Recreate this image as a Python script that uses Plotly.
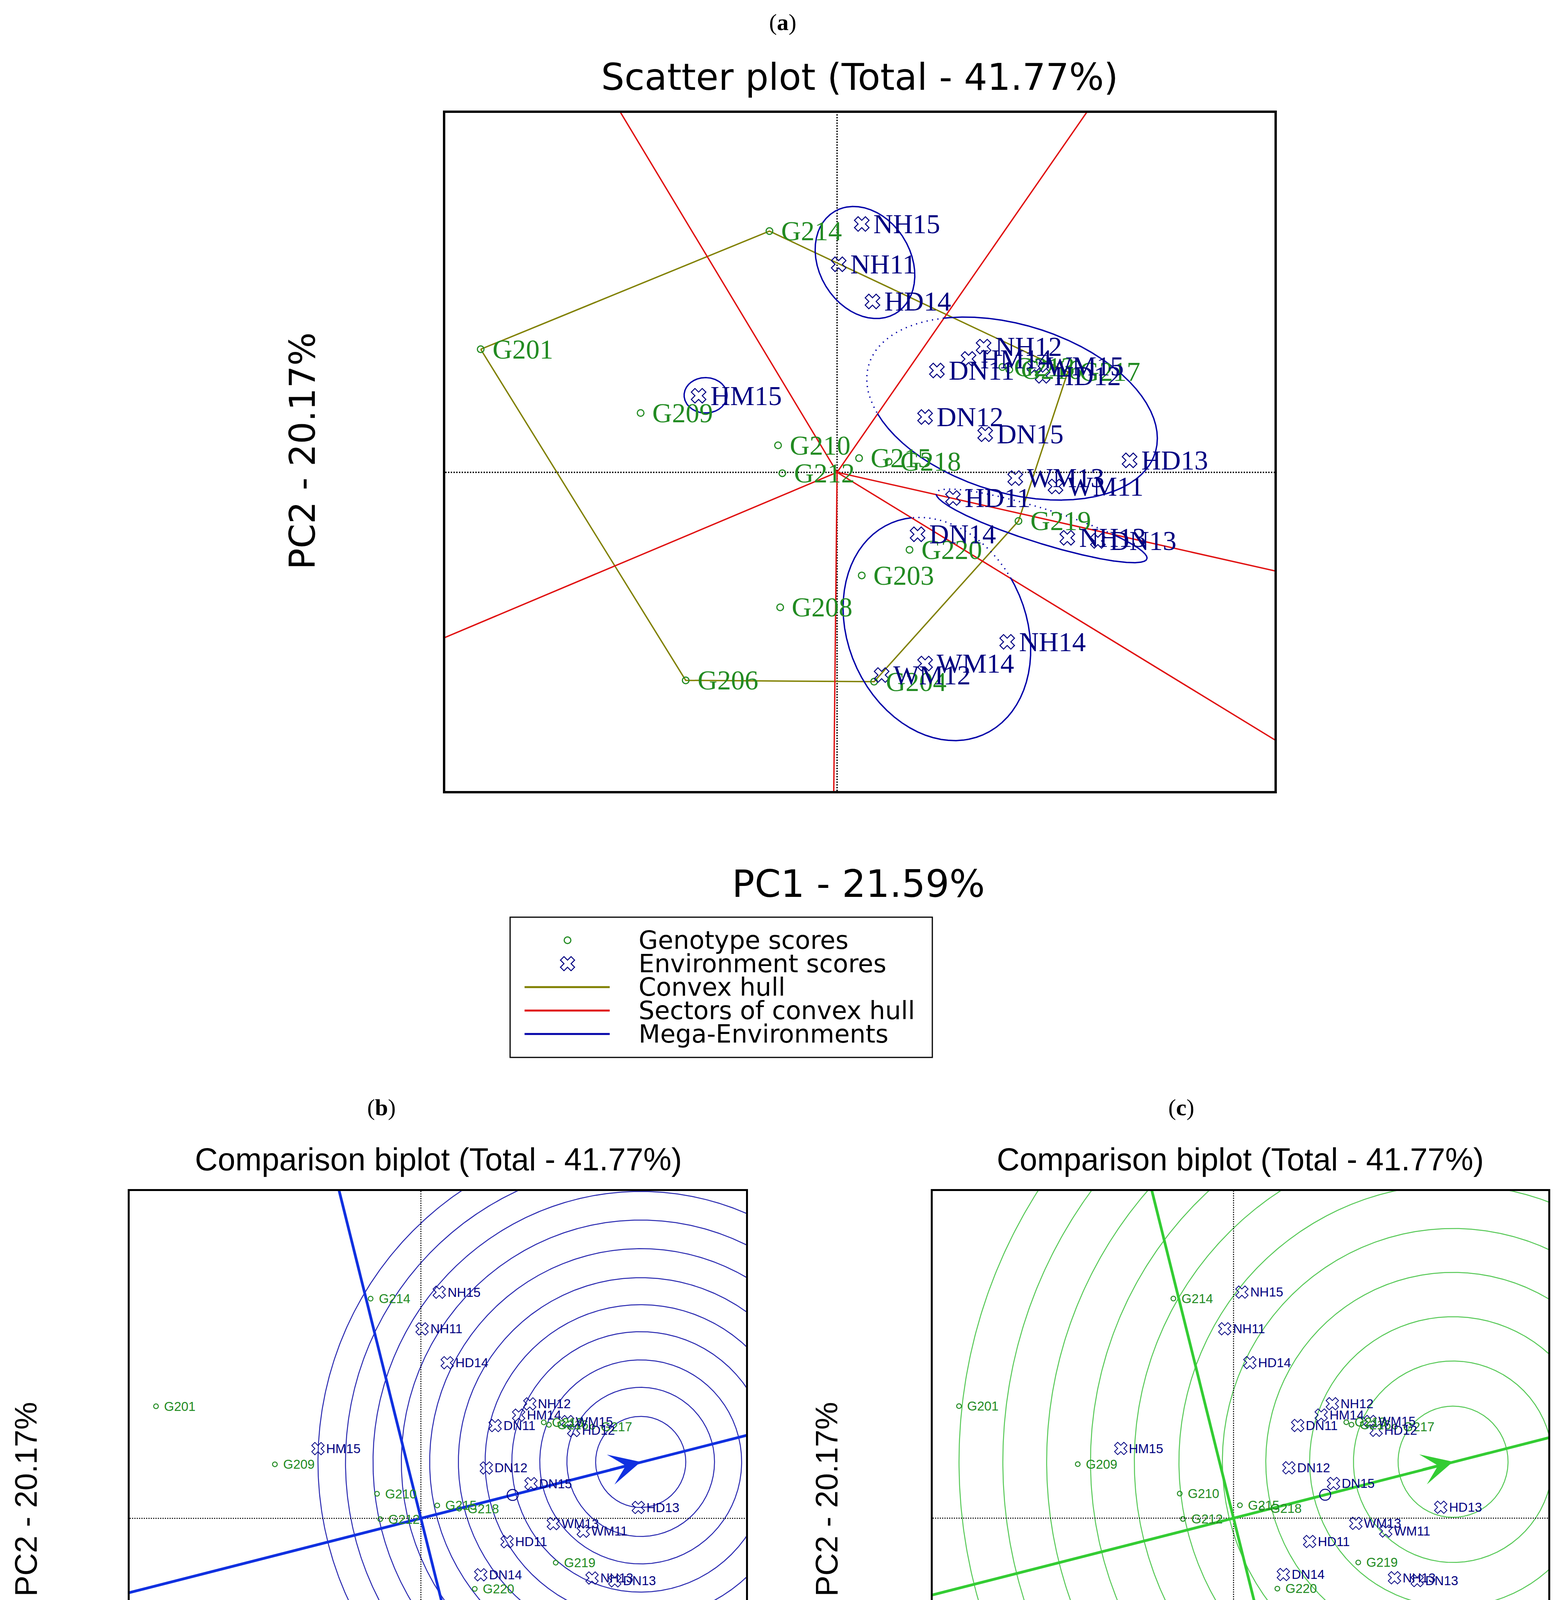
import numpy as np
import plotly.graph_objects as go

W, H = 3994, 5144

# ---------------- data: PC1 / PC2 scores ----------------
geno_names = ["G201", "G203", "G204", "G206", "G208", "G209", "G210", "G212", "G213",
              "G214", "G215", "G216", "G217", "G218", "G219", "G220"]
geno_pc1 = [-6.64, 0.46, 0.69, -2.82, -1.06, -3.66, -1.10, -1.02, 3.08,
            -1.26, 0.41, 3.21, 4.30, 0.96, 3.38, 1.35]
geno_pc2 = [2.78, -2.33, -4.73, -4.70, -3.05, 1.34, 0.61, -0.02, 2.38,
            5.45, 0.32, 2.32, 2.27, 0.24, -1.10, -1.75]

env_names = ["NH11", "NH12", "NH13", "NH14", "NH15", "HD11", "HD12", "HD13", "HD14",
             "DN11", "DN12", "DN13", "DN14", "DN15", "WM11", "WM12", "WM13", "WM14",
             "WM15", "HM14", "HM15"]
env_pc1 = [0.03, 2.73, 4.29, 3.17, 0.46, 2.16, 3.83, 5.45, 0.66,
           1.86, 1.64, 4.86, 1.50, 2.76, 4.07, 0.83, 3.32, 1.64,
           3.68, 2.45, -2.58]
env_pc2 = [4.70, 2.84, -1.48, -3.83, 5.61, -0.58, 2.18, 0.27, 3.86,
           2.30, 1.25, -1.55, -1.40, 0.86, -0.32, -4.58, -0.13, -4.32,
           2.40, 2.56, 1.73]

# vertices of the convex hull (genotypes), in drawing order
hull_genotypes = ["G201", "G214", "G217", "G219", "G204", "G206"]

# mega-environment ellipses: centre, semi-axes, rotation (degrees)
me_cx = [0.52, -2.45, 3.26, 3.81, 1.86]
me_cy = [4.74, 1.74, 1.44, -1.21, -3.54]
me_a = [1.30, 0.40, 2.86, 2.10, 2.56]
me_b = [0.88, 0.40, 1.85, 0.38, 1.69]
me_angle = [108, 0, -25, -21, -76.6]

# average environment coordinate and ideal point of the comparison biplots
aec_point = [2.30, 0.58]
ideal_point = [5.51, 1.40]
rings_b = [1.13, 1.85, 2.53, 3.23, 3.90, 4.57, 5.29, 6.00, 6.71, 7.40, 8.09]
rings_c = [1.38, 2.50, 3.60, 4.70, 5.79, 6.88, 8.00, 9.10, 10.2, 11.3, 12.4]
# panel (c) draws its origin / AEC frame slightly right of panel (b)'s
frame_shift = {"b": 0.0, "c": 0.25}

pc1_range = [-7.30, 8.15]
pc2_range = [-7.20, 8.12]

title_a = "Scatter plot (Total - 41.77%)"
title_bc = "Comparison biplot (Total - 41.77%)"
xlab = "PC1 - 21.59%"
ylab = "PC2 - 20.17%"

# ---------------- styles ----------------
GREEN = "#228B22"
NAVY = "#000080"
OLIVE = "#808000"
RED = "#E01010"
MEBLUE = "#0000A8"
B_LINE = "#1030E0"
B_RING = "#2828B0"
C_LINE = "#33CC33"
C_RING = "#55C855"

fig = go.Figure()
AX = {"a": ("x", "y"), "b": ("x2", "y2"), "c": ("x3", "y3"), "p": ("x4", "y4")}


def add_line(xs, ys, ax, color, width, dash="solid"):
    fig.add_trace(go.Scatter(x=xs, y=ys, mode="lines",
                             line=dict(color=color, width=width, dash=dash),
                             xaxis=AX[ax][0], yaxis=AX[ax][1],
                             hoverinfo="skip", showlegend=False))


def add_markers(xs, ys, ax, symbol, size, color, lw):
    fig.add_trace(go.Scatter(x=xs, y=ys, mode="markers",
                             marker=dict(symbol=symbol, size=size, color=color,
                                         line=dict(color=color, width=lw)),
                             xaxis=AX[ax][0], yaxis=AX[ax][1],
                             hoverinfo="skip", showlegend=False))


annotations = []


def add_labels(names, xs, ys, ax, color, family, size, shift):
    for n, x, y in zip(names, xs, ys):
        annotations.append(dict(x=x, y=y, xref=AX[ax][0], yref=AX[ax][1], text=n,
                                showarrow=False, xanchor="left", yanchor="middle",
                                xshift=shift, font=dict(family=family, size=size, color=color)))


def page_text(x, y, text, size, family="Liberation Sans", angle=0, anchor="center", color="black"):
    annotations.append(dict(x=x, y=y, xref="x4", yref="y4", text=text, showarrow=False,
                            xanchor=anchor, yanchor="middle", textangle=angle,
                            font=dict(family=family, size=size, color=color)))


gidx = {n: i for i, n in enumerate(geno_names)}
hx = [geno_pc1[gidx[n]] for n in hull_genotypes]
hy = [geno_pc2[gidx[n]] for n in hull_genotypes]

# sector rays: perpendiculars from the origin to each hull edge
rays = []
for k in range(len(hx)):
    p = np.array([hx[k], hy[k]])
    q = np.array([hx[(k + 1) % len(hx)], hy[(k + 1) % len(hx)]])
    d = q - p
    t = -p.dot(d) / d.dot(d)
    foot = p + t * d
    rays.append(foot / np.linalg.norm(foot))
ray_ang = sorted(float(np.degrees(np.arctan2(u[1], u[0])) % 360) for u in rays)


def sector_of(a):
    a = a % 360
    n = len(ray_ang)
    for i in range(n):
        lo, hi = ray_ang[i], ray_ang[(i + 1) % n]
        if lo <= hi:
            if lo <= a < hi:
                return i
        else:
            if a >= lo or a < hi:
                return i
    return 0


# ================= panel (a) =================
add_line(pc1_range, [0, 0], "a", "black", 3.5, "dot")
add_line([0, 0], pc2_range, "a", "black", 3.5, "dot")
add_line(hx + [hx[0]], hy + [hy[0]], "a", OLIVE, 3.5)
for u in rays:
    add_line([0, 40 * u[0]], [0, 40 * u[1]], "a", RED, 3.5)

tt = np.linspace(0, 2 * np.pi, 1441)
for cx, cy, a, b, ang in zip(me_cx, me_cy, me_a, me_b, me_angle):
    th = np.radians(ang)
    ex = cx + a * np.cos(th) * np.cos(tt) - b * np.sin(th) * np.sin(tt)
    ey = cy + a * np.sin(th) * np.cos(tt) + b * np.cos(th) * np.sin(tt)
    home = sector_of(np.degrees(np.arctan2(cy, cx)))
    inside = np.array([sector_of(np.degrees(np.arctan2(y, x))) == home for x, y in zip(ex, ey)])
    sx, sy, dx, dy = [], [], [], []
    for i in range(len(tt)):
        nb = inside[i] or (i > 0 and inside[i - 1]) or (i < len(tt) - 1 and inside[i + 1])
        if nb:
            sx.append(ex[i]); sy.append(ey[i])
        else:
            sx.append(None); sy.append(None)
        if not inside[i] or (i > 0 and not inside[i - 1]):
            dx.append(ex[i]); dy.append(ey[i])
        else:
            dx.append(None); dy.append(None)
    add_line(sx, sy, "a", MEBLUE, 3.5)
    if any(v is not None for v in dx):
        add_line(dx, dy, "a", MEBLUE, 3.5, "3px,11px")

add_markers(geno_pc1, geno_pc2, "a", "circle-open", 17, GREEN, 3)
add_markers(env_pc1, env_pc2, "a", "x-open", 33, NAVY, 2.5)
add_labels(geno_names, geno_pc1, geno_pc2, "a", GREEN, "Liberation Serif", 70, 28)
add_labels(env_names, env_pc1, env_pc2, "a", NAVY, "Liberation Serif", 70, 28)

# ================= panels (b) and (c) =================
aec = np.array(aec_point) / np.linalg.norm(aec_point)
perp = np.array([aec[1], -aec[0]])
for key, rings, lcol, rcol in (("b", rings_b, B_LINE, B_RING), ("c", rings_c, C_LINE, C_RING)):
    s = frame_shift[key]
    t2 = np.linspace(0, 2 * np.pi, 721)
    for r in rings:
        add_line(list(s + ideal_point[0] + r * np.cos(t2)), list(ideal_point[1] + r * np.sin(t2)),
                 key, rcol, 2.5)
    add_line(pc1_range, [0, 0], key, "black", 2.5, "dot")
    add_line([s, s], pc2_range, key, "black", 2.5, "dot")
    add_line([s - 40 * aec[0], s + 40 * aec[0]], [-40 * aec[1], 40 * aec[1]], key, lcol, 7)
    add_line([s - 40 * perp[0], s + 40 * perp[0]], [-40 * perp[1], 40 * perp[1]], key, lcol, 7)
    annotations.append(dict(x=s + ideal_point[0], y=ideal_point[1], xref=AX[key][0], yref=AX[key][1],
                            ax=s + ideal_point[0] - 0.8 * aec[0], ay=ideal_point[1] - 0.8 * aec[1],
                            axref=AX[key][0], ayref=AX[key][1], text="", showarrow=True,
                            arrowhead=3, arrowsize=2.2, arrowwidth=6, arrowcolor=lcol))
    add_markers(geno_pc1, geno_pc2, key, "circle-open", 12, GREEN, 2.5)
    add_markers(env_pc1, env_pc2, key, "x-open", 28, NAVY, 2)
    add_markers([s + aec_point[0]], [aec_point[1]], key, "circle-open", 28, NAVY, 2.5)
    add_labels(geno_names, geno_pc1, geno_pc2, key, GREEN, "Liberation Sans", 33, 19)
    add_labels(env_names, env_pc1, env_pc2, key, NAVY, "Liberation Sans", 33, 19)

# ================= titles, axis labels (page pixel coordinates) =================
page_text(2004, 57, "(<b>a</b>)", 60, "Liberation Serif")
page_text(2201, 197, title_a, 94, "DejaVu Sans")
page_text(2198, 2263, xlab, 96, "DejaVu Sans")
page_text(774, 1155, ylab, 90, "DejaVu Sans", angle=-90)

page_text(976, 2835, "(<b>b</b>)", 60, "Liberation Serif")
page_text(1122, 2968, title_bc, 81)
page_text(1122, 4845, xlab, 80)
page_text(66, 3838, ylab, 80, angle=-90)

page_text(3024, 2835, "(<b>c</b>)", 60, "Liberation Serif")
page_text(3175, 2968, title_bc, 81)
page_text(3175, 4845, xlab, 80)
page_text(2116, 3838, ylab, 80, angle=-90)

# ================= legends =================
shapes = []
# legend (a)
shapes.append(dict(type="rect", xref="x4", yref="y4", x0=1306, x1=2387, y0=2348, y1=2707,
                   line=dict(color="black", width=3), fillcolor="rgba(0,0,0,0)"))
leg_a_y = [2407, 2467, 2527, 2587, 2647]
leg_a_txt = ["Genotype scores", "Environment scores", "Convex hull", "Sectors of convex hull",
             "Mega-Environments"]
add_markers([1453], [leg_a_y[0]], "p", "circle-open", 17, GREEN, 3)
add_markers([1453], [leg_a_y[1]], "p", "x-open", 32, NAVY, 2.5)
for yy, col in zip(leg_a_y[2:], [OLIVE, RED, MEBLUE]):
    add_line([1343, 1561], [yy, yy], "p", col, 5)
for yy, tx in zip(leg_a_y, leg_a_txt):
    page_text(1633, yy, tx, 64, "DejaVu Sans", anchor="left")

# legends (b) and (c)
leg_bc_y = [4975, 5032, 5087]
leg_bc_txt = ["Genotype scores", "Environment scores", "AEC"]
for off in (0, 2052):
    shapes.append(dict(type="rect", xref="x4", yref="y4", x0=523 + off, x1=1208 + off,
                       y0=4922, y1=5127, line=dict(color="#333333", width=3),
                       fillcolor="rgba(0,0,0,0)"))
    add_markers([565 + off], [leg_bc_y[0]], "p", "circle-open", 11, GREEN, 2.5)
    add_markers([565 + off], [leg_bc_y[1]], "p", "x-open", 26, NAVY, 2)
    add_markers([565 + off], [leg_bc_y[2]], "p", "circle-open", 30, NAVY, 2.5)
    for yy, tx in zip(leg_bc_y, leg_bc_txt):
        page_text(698 + off, yy, tx, 52, "Liberation Sans", anchor="left")

# ================= layout =================
def box_axis(domain, rng, anchor, lw):
    return dict(domain=domain, range=rng, anchor=anchor, showgrid=False, zeroline=False,
                showticklabels=False, ticks="", showline=True, mirror=True,
                linecolor="black", linewidth=lw, fixedrange=True)


fig.update_layout(
    width=W, height=H, autosize=False,
    margin=dict(l=0, r=0, t=0, b=0, pad=0),
    paper_bgcolor="white", plot_bgcolor="rgba(0,0,0,0)",
    showlegend=False,
    xaxis=box_axis([1140 / W, 3263 / W], pc1_range, "y", 6),
    yaxis=box_axis([1 - 2025 / H, 1 - 289 / H], pc2_range, "x", 6),
    xaxis2=box_axis([332 / W, 1910 / W], pc1_range, "y2", 5),
    yaxis2=box_axis([1 - 4630 / H, 1 - 3049 / H], pc2_range, "x2", 5),
    xaxis3=box_axis([2388 / W, 3964 / W], pc1_range, "y3", 5),
    yaxis3=box_axis([1 - 4629 / H, 1 - 3049 / H], pc2_range, "x3", 5),
    xaxis4=dict(domain=[0, 1], range=[0, W], anchor="y4", visible=False, fixedrange=True),
    yaxis4=dict(domain=[0, 1], range=[H, 0], anchor="x4", visible=False, fixedrange=True),
    annotations=annotations,
    shapes=shapes,
)

fig.write_html("out.html", config={"displayModeBar": False},
               post_script="document.body.style.margin='0';")
